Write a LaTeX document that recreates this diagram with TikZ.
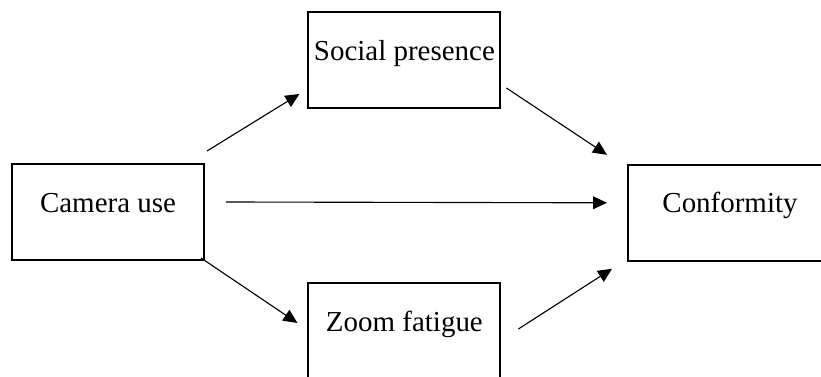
\documentclass[tikz,border=0pt]{standalone}
\usepackage{fontspec}
\setmainfont{Liberation Serif}
\usetikzlibrary{arrows.meta}

\begin{document}
\begin{tikzpicture}[font=\fontsize{20.6}{24}\selectfont,
  var/.style={draw,line width=1.4pt,inner sep=0pt,minimum width=4.8cm,text height=1.2cm,text depth=1.2cm},
  link/.style={-{Triangle[length=.35cm,width=.32cm]},line width=.8pt}]
\clip (0,0) rectangle (20.525,9.4);
\node[var] (cam) at (2.7,4.1) {Camera use};
\node[var] (soc) at (10.11,7.9) {Social presence};
\node[var] (zf) at (10.11,1.125) {Zoom fatigue};
\node[var,minimum width=5.1cm] (conf) at (18.25,4.08) {Conformity};
\draw[link] ([xshift=.05cm,yshift=.3cm]cam.north east) -- ([xshift=-.2cm,yshift=.375cm]soc.south west);
\draw[link] ([xshift=-.1cm,yshift=.075cm]cam.south east) -- ([xshift=-.25cm,yshift=.2cm]zf.west);
\draw[link] ([xshift=.525cm,yshift=.25cm]cam.east) -- ([xshift=-.5cm,yshift=.25cm]conf.west);
\draw[link] ([xshift=.125cm,yshift=.525cm]soc.south east) -- ([xshift=-.5cm,yshift=.225cm]conf.north west);
\draw[link] ([xshift=.425cm,yshift=.05cm]zf.east) -- ([xshift=-.375cm,yshift=-.175cm]conf.south west);
\end{tikzpicture}
\end{document}
